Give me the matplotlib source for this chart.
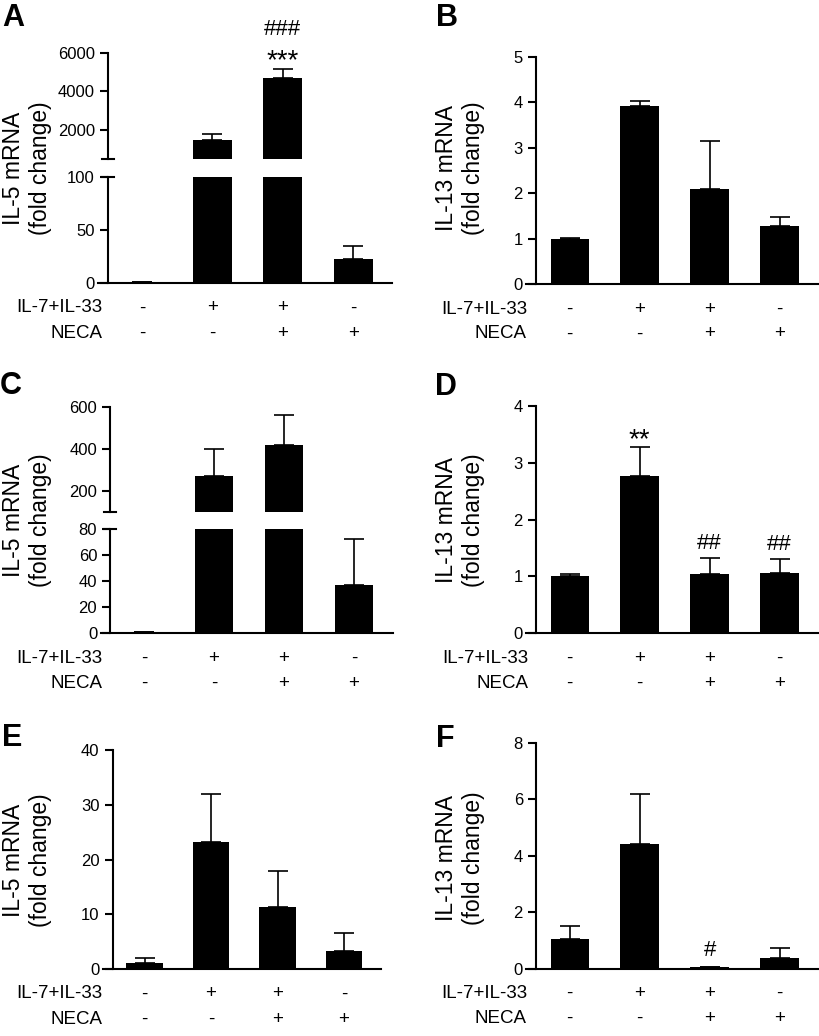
import matplotlib
matplotlib.use("Agg")
import matplotlib.pyplot as plt
import matplotlib.transforms as mtransforms

plt.rcParams['font.family'] = ['Liberation Sans', 'DejaVu Sans']

W, H = 819, 1036

# ---------------------------------------------------------------------------
# Data
# ---------------------------------------------------------------------------
il733 = ["-", "+", "+", "-"]
neca = ["-", "-", "+", "+"]

A_vals = [1, 1490, 4700, 23]
A_err = [0.3, 330, 460, 11.5]
B_vals = [1.0, 3.92, 2.09, 1.28]
B_err = [0.01, 0.11, 1.05, 0.19]
C_vals = [1, 271, 419, 37]
C_err = [0.2, 126, 141, 35]
D_vals = [1.01, 2.77, 1.04, 1.06]
D_err = [0.03, 0.50, 0.28, 0.25]
E_vals = [1.15, 23.2, 11.3, 3.35]
E_err = [0.9, 8.7, 6.6, 3.2]
F_vals = [1.04, 4.41, 0.05, 0.39]
F_err = [0.48, 1.77, 0.0, 0.33]

IL5 = "IL-5 mRNA\n(fold change)"
IL13 = "IL-13 mRNA\n(fold change)"

# ---------------------------------------------------------------------------
# Helpers
# ---------------------------------------------------------------------------
def px_box(left, top, right, bottom):
    return [left / W, 1 - bottom / H, (right - left) / W, (bottom - top) / H]

XLIM = (-0.62, 3.55)
SPINE_X = -0.48
BAR_W = 0.55
x = list(range(4))


def style_axes(ax, ylim, yticks, bottom=True):
    ax.set_xlim(*XLIM)
    ax.set_ylim(*ylim)
    ax.set_yticks(yticks)
    ax.set_xticks([])
    ax.spines['top'].set_visible(False)
    ax.spines['right'].set_visible(False)
    ax.spines['bottom'].set_visible(bottom)
    ax.spines['left'].set_position(('data', SPINE_X))
    for s in ('left', 'bottom'):
        ax.spines[s].set_linewidth(1.5)
    ax.tick_params(axis='y', direction='out', length=6, width=1.5,
                   labelsize=12, pad=3.5)
    ax.patch.set_alpha(0)


def draw_bars(ax, vals, errs):
    ax.bar(x, vals, width=BAR_W, color='black', zorder=3)
    ax.errorbar(x, vals, yerr=[[0] * 4, errs], fmt='none', ecolor='black',
                elinewidth=1.2, capsize=7, capthick=1.2, zorder=2)


def break_mark(ax, where):
    tr = mtransforms.blended_transform_factory(ax.transData, ax.transAxes)
    ax.plot([SPINE_X - 0.085, SPINE_X + 0.085], [where, where], color='black',
            lw=1.5, transform=tr, clip_on=False)


def row_labels(ax, right_px):
    fig = ax.figure
    y0 = ax.transAxes.transform((0, 0))[1]
    for k, (lab, signs) in enumerate([("IL-7+IL-33", il733), ("NECA", neca)]):
        ypx = y0 - 25 - 25 * k
        fig.text(right_px / W, ypx / H, lab, ha='right', va='center',
                 fontsize=13.5)
        for i, s in enumerate(signs):
            ax.annotate(s, xy=(i, 0), xycoords=('data', 'axes fraction'),
                        xytext=(0, -25 - 25 * k), textcoords='offset pixels',
                        ha='center', va='center', fontsize=13.5,
                        annotation_clip=False)


def annotate_marks(ax, vals, errs, marks):
    # marks: {bar index: [(text, baseline offset in px), ...]}
    for i, items in marks.items():
        for t, off in items:
            size = 20 if t.startswith("*") else 16
            ax.annotate(t, xy=(i, vals[i] + errs[i]), xytext=(0, off),
                        textcoords='offset pixels', ha='center',
                        va='baseline', fontsize=size, annotation_clip=False)


fig = plt.figure(figsize=(W / 100, H / 100), dpi=100)

# ---------------------------------------------------------------------------
# Panel A (broken axis)
# ---------------------------------------------------------------------------
axA_lo = fig.add_axes(px_box(98.3, 176.7, 392, 283))
axA_hi = fig.add_axes(px_box(98.3, 52.7, 392, 159.3))
style_axes(axA_lo, (0, 100), [0, 50, 100])
style_axes(axA_hi, (500, 6000), [2000, 4000, 6000], bottom=False)
draw_bars(axA_lo, A_vals, A_err)
draw_bars(axA_hi, A_vals, A_err)
break_mark(axA_lo, 1.0)
break_mark(axA_hi, 0.0)
annotate_marks(axA_hi, A_vals, A_err, {2: [("***", 1), ("###", 34)]})
row_labels(axA_lo, 102)

# ---------------------------------------------------------------------------
# Panel B
# ---------------------------------------------------------------------------
axB = fig.add_axes(px_box(526.4, 57, 818, 284))
style_axes(axB, (0, 5), [0, 1, 2, 3, 4, 5])
draw_bars(axB, B_vals, B_err)
row_labels(axB, 527)

# ---------------------------------------------------------------------------
# Panel C (broken axis)
# ---------------------------------------------------------------------------
axC_lo = fig.add_axes(px_box(100.6, 529, 392.5, 633.3))
axC_hi = fig.add_axes(px_box(100.6, 406.7, 392.5, 511.7))
style_axes(axC_lo, (0, 80), [0, 20, 40, 60, 80])
style_axes(axC_hi, (100, 600), [200, 400, 600], bottom=False)
draw_bars(axC_lo, C_vals, C_err)
draw_bars(axC_hi, C_vals, C_err)
break_mark(axC_lo, 1.0)
break_mark(axC_hi, 0.0)
row_labels(axC_lo, 102)

# ---------------------------------------------------------------------------
# Panel D
# ---------------------------------------------------------------------------
axD = fig.add_axes(px_box(526.4, 406, 818, 633.3))
style_axes(axD, (0, 4), [0, 1, 2, 3, 4])
draw_bars(axD, D_vals, D_err)
annotate_marks(axD, D_vals, D_err,
               {1: [("**", 0)], 2: [("##", 9)], 3: [("##", 9)]})
row_labels(axD, 528)

# ---------------------------------------------------------------------------
# Panel E
# ---------------------------------------------------------------------------
axE = fig.add_axes(px_box(103.3, 750, 380.6, 969))
style_axes(axE, (0, 40), [0, 10, 20, 30, 40])
draw_bars(axE, E_vals, E_err)
row_labels(axE, 102)

# ---------------------------------------------------------------------------
# Panel F
# ---------------------------------------------------------------------------
axF = fig.add_axes(px_box(526.4, 742.7, 818, 968.7))
style_axes(axF, (0, 8), [0, 2, 4, 6, 8])
draw_bars(axF, F_vals, F_err)
annotate_marks(axF, F_vals, F_err, {2: [("#", 11)]})
row_labels(axF, 527)

# ---------------------------------------------------------------------------
# Y labels and panel letters
# ---------------------------------------------------------------------------
for xpx, ypx, lab in [(27, 168, IL5), (460, 168, IL13), (27, 520, IL5),
                      (460, 520, IL13), (27, 860, IL5), (460, 858, IL13)]:
    fig.text(xpx / W, 1 - ypx / H, lab, rotation=90, ha='center',
             va='center', multialignment='center', fontsize=16.5)

for xpx, ypx, letter in [(2, 18, "A"), (436, 18, "B"), (0, 386, "C"),
                         (435, 387, "D"), (2, 738, "E"), (436, 739, "F")]:
    fig.text(xpx / W, 1 - ypx / H, letter, ha='left', va='center',
             fontsize=22, fontweight='bold')

fig.savefig("out.png", dpi=100)
